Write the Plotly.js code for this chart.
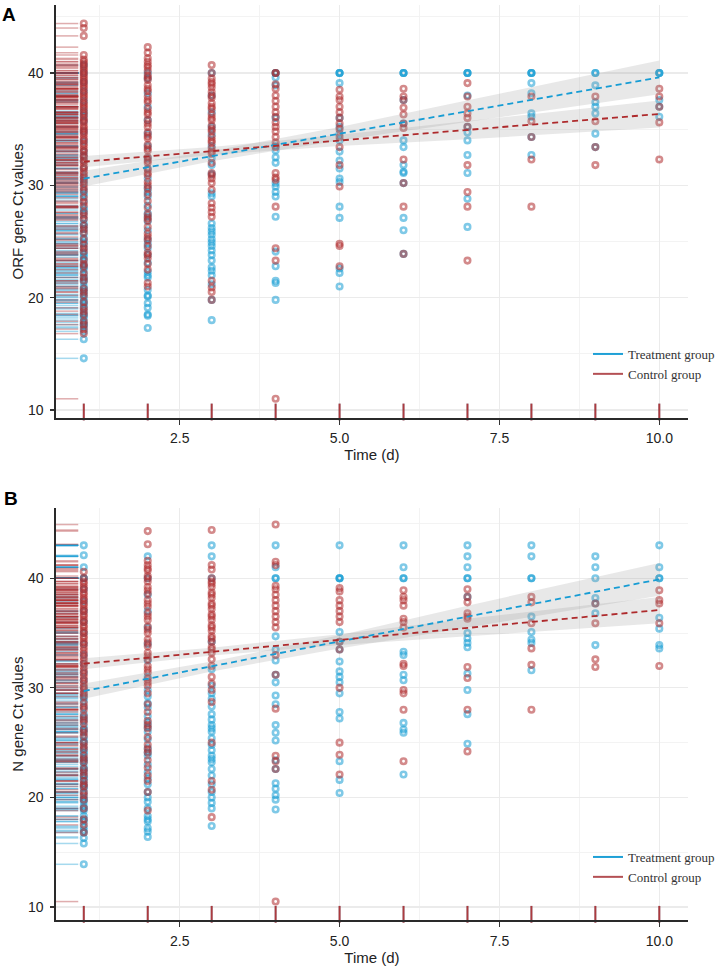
<!DOCTYPE html>
<html>
<head>
<meta charset="utf-8">
<script src="https://cdn.plot.ly/plotly-3.0.1.min.js"></script>
<style>
  html, body { margin: 0; padding: 0; background: #fff; }
  #chart { width: 720px; height: 970px; }
</style>
</head>
<body>
<div id="chart"></div>
<script>
// ---------------- DATA ----------------
const days = [1, 2, 3, 4, 5, 6, 7, 8, 9, 10];
const xTickVals = [2.5, 5.0, 7.5, 10.0];
const yTickVals = [10, 20, 30, 40];
const groupNames = ['Treatment group', 'Control group'];

// Panel A: ORF gene Ct values, one list per day
const orfTreatment = [
  [14.6, 16.3, 17.0, 17.4, 17.6, 17.8, 18.2, 18.4, 18.6, 19.0, 19.3, 19.5, 19.7, 20.0, 20.3, 20.6, 20.8, 21.0, 21.4, 21.6, 21.8, 22.1, 22.5, 22.7, 22.9, 23.3, 23.6, 23.8, 24.0, 24.4, 24.8, 25.0, 25.3, 25.7, 26.1, 26.4, 26.6, 27.0, 27.5, 27.8, 28.0, 28.6, 29.1, 29.3, 29.6, 30.2, 30.5, 30.8, 31.5, 32.2, 32.6, 33.0, 33.9, 34.8, 35.7, 36.2, 36.6, 37.5, 38.4, 39.2, 40.0, 40.7],
  [17.3, 18.4, 18.5, 19.1, 19.5, 20.1, 20.2, 20.7, 21.8, 22.0, 22.3, 23.1, 23.8, 24.4, 24.8, 25.2, 26.0, 26.8, 27.2, 27.5, 28.2, 29.0, 29.4, 29.8, 30.6, 31.5, 32.4, 33.5, 34.6, 35.8, 37.0, 38.2, 39.5, 40.0],
  [18.0, 19.8, 21.2, 22.0, 22.4, 22.7, 23.3, 23.8, 24.2, 24.6, 24.9, 25.2, 25.6, 25.9, 26.2, 26.6, 29.0, 29.3, 31.0, 31.8, 32.4, 33.5, 34.5, 35.2, 36.5, 38.0, 40.0],
  [19.8, 21.3, 21.5, 22.8, 24.1, 27.2, 29.0, 29.4, 29.9, 30.2, 32.0, 32.5, 33.1, 33.5, 36.0, 38.9, 39.6, 40.0, 40.0],
  [21.0, 22.2, 22.6, 27.1, 28.1, 30.3, 30.6, 31.5, 32.2, 33.0, 34.0, 34.6, 35.2, 36.0, 39.1, 40.0, 40.0, 40.0],
  [23.9, 26.0, 27.1, 30.2, 31.1, 31.2, 31.8, 33.4, 34.0, 35.5, 37.6, 40.0, 40.0, 40.0],
  [26.3, 28.8, 31.1, 32.7, 34.0, 34.7, 35.2, 38.0, 40.0, 40.0, 40.0],
  [32.7, 34.3, 36.1, 36.4, 38.2, 39.1, 40.0, 40.0, 40.0],
  [33.4, 34.6, 36.4, 37.0, 37.4, 38.9, 40.0, 40.0],
  [36.1, 37.0, 37.6, 40.0, 40.0, 40.0]
];
const orfControl = [
  [16.8, 17.2, 17.6, 17.9, 18.5, 18.8, 19.1, 19.6, 20.2, 20.5, 20.8, 21.5, 21.8, 22.2, 22.8, 23.0, 23.4, 24.1, 24.4, 24.7, 25.2, 25.8, 26.1, 26.4, 27.0, 27.3, 27.6, 28.2, 28.5, 28.9, 29.5, 29.8, 30.1, 30.4, 30.7, 31.0, 31.2, 31.5, 31.7, 32.0, 32.2, 32.5, 32.7, 33.0, 33.2, 33.5, 33.7, 34.0, 34.2, 34.5, 34.7, 34.9, 35.1, 35.3, 35.6, 35.8, 36.0, 36.3, 36.5, 36.8, 37.0, 37.2, 37.4, 37.7, 37.9, 38.1, 38.3, 38.6, 38.8, 39.0, 39.2, 39.4, 39.6, 39.8, 40.0, 40.2, 40.4, 40.6, 40.8, 41.0, 41.2, 41.6, 43.3, 44.0, 44.4],
  [21.0, 21.3, 22.5, 23.0, 23.5, 23.8, 24.0, 24.6, 25.1, 25.4, 25.7, 26.3, 26.9, 27.1, 27.4, 28.0, 28.6, 29.2, 29.7, 30.0, 30.3, 30.9, 31.1, 31.4, 32.0, 32.2, 32.5, 33.1, 33.3, 33.6, 34.2, 34.4, 34.7, 35.2, 35.5, 35.8, 36.3, 36.5, 36.8, 37.4, 37.6, 37.9, 38.4, 38.6, 38.9, 39.4, 39.6, 39.8, 40.2, 40.5, 40.7, 41.0, 41.3, 41.8, 42.3],
  [19.8, 20.5, 20.9, 21.5, 27.2, 27.6, 28.0, 28.4, 29.6, 30.2, 30.6, 30.9, 31.1, 32.0, 32.8, 33.0, 33.3, 33.8, 34.0, 34.3, 34.8, 35.0, 35.3, 35.8, 36.0, 36.3, 36.8, 37.0, 37.3, 37.8, 38.0, 38.3, 38.7, 39.0, 39.2, 39.5, 40.0, 40.7],
  [11.0, 23.3, 24.4, 28.1, 30.5, 30.7, 31.1, 33.4, 33.8, 34.3, 34.8, 35.2, 35.6, 36.1, 36.5, 37.0, 37.5, 38.0, 38.6, 39.0, 40.0, 40.0],
  [22.8, 24.6, 24.8, 29.9, 31.8, 33.4, 34.3, 35.0, 35.5, 36.0, 36.5, 37.0, 37.6, 37.9, 38.5],
  [23.9, 28.1, 30.2, 32.3, 35.1, 35.5, 36.3, 36.9, 37.6, 37.9, 38.6],
  [23.3, 28.1, 29.4, 31.8, 35.2, 36.0, 36.4, 37.0, 37.9, 39.1],
  [28.1, 32.3, 34.3, 35.7, 37.9],
  [31.8, 33.4, 35.7, 37.9],
  [32.3, 35.6, 37.0, 37.9, 38.6]
];

// Panel B: N gene Ct values, one list per day
const nTreatment = [
  [13.9, 15.8, 16.3, 16.8, 17.0, 17.3, 17.8, 18.0, 18.3, 18.8, 19.0, 19.2, 19.6, 19.8, 20.0, 20.4, 20.8, 21.0, 21.2, 21.6, 21.8, 22.0, 22.4, 22.6, 22.8, 23.2, 23.4, 23.6, 24.0, 24.2, 24.5, 25.0, 25.2, 25.5, 26.0, 26.2, 26.5, 27.0, 27.3, 27.6, 28.2, 28.8, 29.1, 29.4, 30.0, 30.7, 31.4, 32.2, 33.0, 34.0, 35.0, 36.0, 37.0, 37.9, 39.0, 40.0, 40.0, 41.0, 42.1, 43.0],
  [16.4, 16.9, 17.2, 17.8, 18.0, 18.3, 19.0, 19.6, 20.0, 20.5, 21.2, 21.7, 22.3, 23.0, 23.8, 24.1, 24.5, 25.3, 26.0, 26.4, 26.8, 27.4, 28.2, 28.6, 29.2, 29.8, 31.0, 32.5, 34.0, 35.5, 37.0, 38.5, 40.0, 42.0],
  [17.4, 19.0, 19.5, 20.0, 20.5, 21.2, 22.0, 22.6, 23.2, 23.5, 23.8, 24.3, 24.8, 25.4, 26.0, 26.3, 26.6, 27.1, 27.6, 28.3, 29.0, 29.5, 30.2, 31.7, 34.2, 40.0, 42.0, 43.0],
  [18.9, 19.8, 20.2, 20.8, 21.3, 22.6, 23.4, 25.2, 25.9, 26.6, 28.5, 29.3, 30.5, 31.2, 32.5, 33.5, 34.7, 40.0, 40.0, 41.0, 43.0],
  [20.4, 21.6, 23.3, 27.2, 27.8, 29.5, 30.5, 31.0, 31.5, 32.4, 33.5, 34.2, 35.1, 40.0, 40.0, 40.0, 43.0],
  [22.1, 25.9, 26.2, 26.8, 30.7, 31.2, 33.0, 33.3, 40.0, 40.0, 41.0, 43.0],
  [24.9, 27.6, 29.8, 31.3, 33.7, 34.1, 34.5, 35.0, 38.3, 40.0, 40.0, 41.0, 42.0, 43.0],
  [31.6, 34.1, 34.4, 35.1, 36.5, 40.0, 40.0, 42.0, 43.0],
  [33.9, 36.8, 37.7, 38.2, 40.0, 41.0, 42.0],
  [33.6, 33.9, 35.4, 36.4, 40.0, 40.0, 41.0, 43.0]
];
const nControl = [
  [16.8, 17.5, 18.0, 19.0, 19.8, 20.2, 20.5, 21.0, 21.2, 21.5, 22.0, 22.3, 22.6, 23.2, 23.5, 23.8, 24.4, 24.7, 25.0, 25.6, 25.9, 26.2, 26.8, 27.1, 27.4, 28.0, 28.3, 28.6, 29.2, 29.5, 29.8, 30.1, 30.4, 30.7, 31.0, 31.3, 31.6, 31.9, 32.2, 32.5, 32.8, 33.1, 33.4, 33.7, 34.0, 34.2, 34.5, 34.7, 35.0, 35.2, 35.5, 35.7, 36.0, 36.2, 36.5, 36.7, 37.0, 37.2, 37.5, 37.7, 38.0, 38.2, 38.5, 38.7, 39.0, 39.2, 39.5, 39.7, 40.0, 40.6],
  [18.8, 20.5, 21.5, 22.0, 22.7, 23.4, 24.1, 24.4, 24.8, 25.5, 26.3, 26.6, 27.0, 27.8, 28.5, 29.5, 30.2, 30.5, 30.8, 31.4, 31.7, 32.0, 32.6, 32.9, 33.2, 33.8, 34.1, 34.4, 35.0, 35.3, 35.6, 36.2, 36.5, 36.8, 37.4, 37.7, 38.0, 38.6, 38.9, 39.2, 39.7, 40.0, 40.2, 40.7, 40.9, 41.2, 41.6, 43.1, 44.3],
  [18.2, 20.7, 21.5, 25.0, 28.7, 29.8, 30.4, 31.0, 32.0, 32.6, 33.2, 33.5, 33.7, 34.2, 34.5, 34.7, 35.2, 35.5, 35.7, 36.2, 36.5, 36.7, 37.2, 37.5, 37.7, 38.2, 38.5, 38.7, 39.2, 39.5, 39.7, 40.0, 40.8, 41.2, 44.4],
  [10.5, 22.6, 23.3, 23.8, 28.1, 31.2, 33.0, 35.5, 36.0, 36.5, 37.0, 37.5, 38.0, 38.5, 39.0, 39.3, 41.2, 41.5, 44.9],
  [22.1, 23.9, 25.0, 30.0, 33.5, 34.2, 36.0, 36.5, 37.0, 37.5, 38.0, 38.8, 39.1],
  [23.3, 28.0, 29.5, 29.8, 32.0, 32.2, 35.5, 36.0, 36.3, 37.5, 38.0, 38.3, 38.9],
  [24.2, 28.0, 30.9, 31.9, 36.3, 36.5, 36.8, 37.8, 38.3, 39.0],
  [28.0, 32.1, 33.6, 35.9, 37.8, 38.3],
  [31.9, 32.6, 35.9, 37.7],
  [32.0, 35.9, 37.7, 38.0, 38.9]
];

// Fitted lines (values at day 1 and day 10) and confidence bands
const fitX = [1, 10];
const orfTrtFit = [30.6, 39.6];
const orfCtlFit = [32.1, 36.35];
const nTrtFit = [29.7, 39.9];
const nCtlFit = [32.2, 37.1];

const bandX = [1, 3, 5, 7, 10];
const orfTrtUpper = [31.3, 33.05, 35.2, 37.55, 41.1];
const orfTrtLower = [29.9, 32.15, 34.0, 35.65, 38.1];
const orfCtlUpper = [32.6, 33.4, 34.5, 35.7, 37.55];
const orfCtlLower = [31.6, 32.7, 33.5, 34.1, 35.15];
const nTrtUpper = [30.4, 32.4, 34.8, 37.5, 41.4];
const nTrtLower = [29.0, 31.5, 33.6, 35.5, 38.4];
const nCtlUpper = [32.7, 33.65, 34.9, 36.3, 38.3];
const nCtlLower = [31.7, 32.95, 33.9, 34.7, 35.9];

// ---------------- STYLE ----------------
const trtColor = 'rgb(22,156,212)';
const ctlColor = 'rgb(174,42,44)';
const trtLegendColor = 'rgb(30,160,214)';
const ctlLegendColor = 'rgb(180,80,84)';
const sans = 'Liberation Sans, Arial, sans-serif';
const serif = 'Liberation Serif, Times New Roman, serif';

function flatten(groupVals) {
  const xs = [], ys = [];
  groupVals.forEach((vals, i) => vals.forEach(v => { xs.push(days[i]); ys.push(v); }));
  return { xs, ys };
}

function pointsTrace(groupVals, color, xa, ya) {
  const f = flatten(groupVals);
  return {
    type: 'scatter', mode: 'markers', x: f.xs, y: f.ys, xaxis: xa, yaxis: ya,
    showlegend: false, hoverinfo: 'skip',
    marker: { symbol: 'circle-open', size: 5.5, color: color, opacity: 0.55, line: { width: 2.6, color: color } }
  };
}

function leftRug(groupVals, color, xa, ya) {
  const f = flatten(groupVals);
  return {
    type: 'scatter', mode: 'markers', x: f.ys.map(() => 0.0166), y: f.ys, xaxis: xa, yaxis: ya,
    showlegend: false, hoverinfo: 'skip', cliponaxis: false,
    marker: { symbol: 'line-ew', size: 17, color: color, opacity: 0.38, line: { width: 1.5, color: color } }
  };
}

function bottomRug(groupVals, color, opacity, xa, ya) {
  const xs = days.filter((d, i) => groupVals[i].length > 0);
  return {
    type: 'scatter', mode: 'markers', x: xs, y: xs.map(() => 0.0145), xaxis: xa, yaxis: ya,
    showlegend: false, hoverinfo: 'skip', cliponaxis: false,
    marker: { symbol: 'line-ns', size: 12, color: color, opacity: opacity, line: { width: 2, color: color } }
  };
}

function bandTrace(upper, lower, xa, ya) {
  return {
    type: 'scatter', mode: 'lines', xaxis: xa, yaxis: ya,
    x: bandX.concat(bandX.slice().reverse()),
    y: upper.concat(lower.slice().reverse()),
    fill: 'toself', fillcolor: 'rgba(150,150,150,0.22)', line: { width: 0 },
    showlegend: false, hoverinfo: 'skip'
  };
}

function fitTrace(vals, color, xa, ya) {
  return {
    type: 'scatter', mode: 'lines', x: fitX, y: vals, xaxis: xa, yaxis: ya,
    line: { color: color, width: 1.8, dash: '6px,4px' }, showlegend: false, hoverinfo: 'skip'
  };
}

function legendTrace(name, color, xa, ya, leg) {
  return {
    type: 'scatter', mode: 'lines', x: [null], y: [null], xaxis: xa, yaxis: ya,
    name: name, legend: leg, line: { color: color, width: 2 }, showlegend: true
  };
}

function panelTraces(trt, ctl, trtFit, ctlFit, tU, tL, cU, cL, xa, ya, xr, yr, leg) {
  return [
    pointsTrace(trt, trtColor, xa, ya),
    pointsTrace(ctl, ctlColor, xa, ya),
    bandTrace(tU, tL, xa, ya),
    bandTrace(cU, cL, xa, ya),
    fitTrace(trtFit, trtColor, xa, ya),
    fitTrace(ctlFit, ctlColor, xa, ya),
    leftRug(trt, trtColor, xr, ya),
    leftRug(ctl, ctlColor, xr, ya),
    bottomRug(trt, trtColor, 0.35, xa, yr),
    bottomRug(ctl, ctlColor, 0.9, xa, yr),
    legendTrace(groupNames[0], trtLegendColor, xa, ya, leg),
    legendTrace(groupNames[1], ctlLegendColor, xa, ya, leg)
  ];
}

const traces = [].concat(
  panelTraces(orfTreatment, orfControl, orfTrtFit, orfCtlFit, orfTrtUpper, orfTrtLower, orfCtlUpper, orfCtlLower, 'x', 'y', 'x3', 'y3', 'legend'),
  panelTraces(nTreatment, nControl, nTrtFit, nCtlFit, nTrtUpper, nTrtLower, nCtlUpper, nCtlLower, 'x2', 'y2', 'x4', 'y4', 'legend2')
);

// ---------------- LAYOUT ----------------
const xDomain = [56 / 720, 690 / 720];
const yDomA = [1 - 418 / 970, 1 - 5 / 970];
const yDomB = [1 - 920.3 / 970, 1 - 508 / 970];

function xAxis(anchor) {
  return {
    domain: xDomain, anchor: anchor, range: [0.563, 10.45],
    tickmode: 'array', tickvals: xTickVals, tickformat: '.1f',
    ticks: 'outside', ticklen: 5, tickwidth: 1.2, tickcolor: '#333', ticklabelstandoff: 2,
    showline: true, linecolor: '#2a2a2a', linewidth: 1.5,
    showgrid: true, gridcolor: '#ebebeb', gridwidth: 1.1,
    minor: { tickmode: 'array', tickvals: [1.25, 3.75, 6.25, 8.75], showgrid: true, gridcolor: '#f2f2f2', gridwidth: 0.9, ticks: '' },
    zeroline: false, automargin: false,
    tickfont: { family: sans, size: 14, color: '#222' },
    title: { text: 'Time (d)', font: { family: sans, size: 15, color: '#222' }, standoff: 3 }
  };
}
function yAxis(anchor, domain, range, title) {
  return {
    domain: domain, anchor: anchor, range: range,
    tickmode: 'array', tickvals: yTickVals,
    ticks: 'outside', ticklen: 4, tickwidth: 1.2, tickcolor: '#333', ticklabelstandoff: 4,
    showline: true, linecolor: '#2a2a2a', linewidth: 1.5,
    showgrid: true, gridcolor: '#ebebeb', gridwidth: 1.1,
    minor: { tickmode: 'array', tickvals: [15, 25, 35, 45], showgrid: true, gridcolor: '#f2f2f2', gridwidth: 0.9, ticks: '' },
    zeroline: false, automargin: false,
    tickfont: { family: sans, size: 14, color: '#222' },
    title: { text: title, font: { family: sans, size: 15, color: '#222' }, standoff: 0 }
  };
}
function overlayX(over, anchor) {
  return { overlaying: over, anchor: anchor, range: [0, 1], visible: false, domain: xDomain };
}
function overlayY(over, anchor, domain) {
  return { overlaying: over, anchor: anchor, range: [0, 1], visible: false, domain: domain };
}
function legendBox(yTop) {
  return {
    x: 590 / 720, y: 1 - yTop / 970, xanchor: 'left', yanchor: 'top',
    bgcolor: 'rgba(0,0,0,0)', borderwidth: 0, tracegroupgap: 0,
    font: { family: serif, size: 13, color: '#333' }
  };
}

const layout = {
  width: 720, height: 970,
  margin: { l: 0, r: 0, t: 0, b: 0 },
  paper_bgcolor: '#fff', plot_bgcolor: '#fff',
  showlegend: true,
  xaxis: xAxis('y'),
  yaxis: yAxis('x', yDomA, [9.29, 46.05], 'ORF gene Ct values'),
  xaxis2: xAxis('y2'),
  yaxis2: yAxis('x2', yDomB, [8.79, 46.41], 'N gene Ct values'),
  xaxis3: overlayX('x', 'y'),
  yaxis3: overlayY('y', 'x', yDomA),
  xaxis4: overlayX('x2', 'y2'),
  yaxis4: overlayY('y2', 'x2', yDomB),
  legend: legendBox(339),
  legend2: legendBox(842),
  annotations: [
    { text: '<b>A</b>', xref: 'paper', yref: 'paper', x: 9.5 / 720, y: 1 - 15 / 970, xanchor: 'center', yanchor: 'middle', showarrow: false, font: { family: sans, size: 19, color: '#000' } },
    { text: '<b>B</b>', xref: 'paper', yref: 'paper', x: 11.5 / 720, y: 1 - 499 / 970, xanchor: 'center', yanchor: 'middle', showarrow: false, font: { family: sans, size: 19, color: '#000' } }
  ]
};

Plotly.newPlot('chart', traces, layout, { staticPlot: true, displayModeBar: false });
</script>
</body>
</html>
